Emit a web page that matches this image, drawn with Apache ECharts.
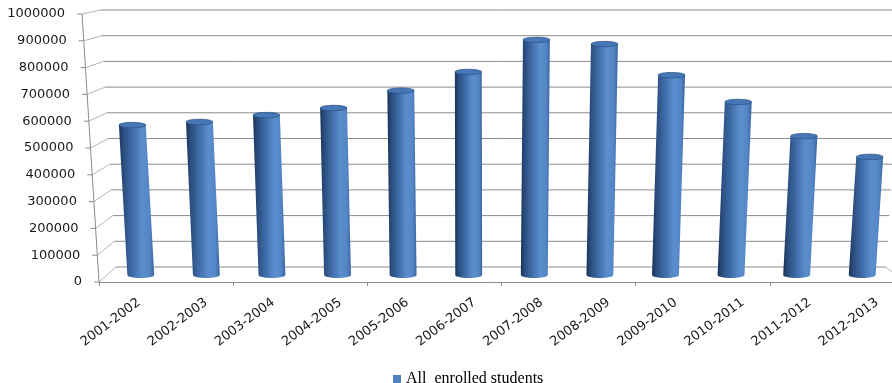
<!DOCTYPE html>
<html>
<head>
<meta charset="utf-8">
<script src="https://cdn.jsdelivr.net/npm/echarts@6/dist/echarts.min.js"></script>
<style>
  html, body { margin: 0; padding: 0; background: #ffffff; }
  #chart { width: 892px; height: 383px; }
</style>
</head>
<body>
<div id="chart"></div>
<script>
// Enrolment per academic year
const categories = ['2001-2002', '2002-2003', '2003-2004', '2004-2005', '2005-2006', '2006-2007',
                    '2007-2008', '2008-2009', '2009-2010', '2010-2011', '2011-2012', '2012-2013'];
const enrolled = [570000, 582000, 608000, 635000, 701000, 772000,
                  894000, 878000, 760000, 658000, 528000, 449000];
const seriesName = 'All  enrolled students';
const valueMax = 1000000;
const valueStep = 100000;

// Vertical edges lean away from a centre line the higher they go (3-point perspective look).
const LEAN = 1.66e-4;
const LEAN_CX = 480;
function lean(x, y, yFloor) { return LEAN_CX + (x - LEAN_CX) * (1 + LEAN * (yFloor - y)); }

// Planes of the box: front face (axes), middle (cylinders), back wall; plus a label strip.
const FRONT  = { left: 99,    right: -12,   top: 14, bottom: 101 };
const MIDDLE = { left: 108,   right: -3,    top: 12, bottom: 108 };
const BACK   = { left: 116,   right: 6,     top: 10, bottom: 116 };
const LABELS = { left: 105.5, right: -18.5, top: 14, bottom: 101 };

const CHART_H = 383;
const AXIS_GREY = '#8c8c8c';
const SIDE_GREY = '#b4b4b4';
const TEXT_FONT = 'DejaVu Sans';

// Value labels follow the leaning front axis: extra right padding per tick.
const frontFloor = CHART_H - FRONT.bottom;
const frontHeight = frontFloor - FRONT.top;
const labelRich = {};
for (let i = 0; i * valueStep <= valueMax; i++) {
  const y = frontFloor - (i * valueStep) / valueMax * frontHeight;
  const pad = FRONT.left - lean(FRONT.left, y, frontFloor);
  labelRich['t' + i] = { padding: [0, pad, 0, 0], fontFamily: TEXT_FONT, fontSize: 13, color: '#1a1a1a' };
}

function gridOf(box) {
  return Object.assign({ containLabel: false, outerBoundsMode: 'none' }, box);
}

function ellipsePoints(cx, cy, rx, ry, from, to, steps) {
  const pts = [];
  for (let s = 0; s <= steps; s++) {
    const a = from + (to - from) * s / steps;
    pts.push([cx + rx * Math.cos(a), cy + ry * Math.sin(a)]);
  }
  return pts;
}

const bodyFill = new echarts.graphic.LinearGradient(0, 0, 1, 0, [
  { offset: 0.00, color: '#1a3356' },
  { offset: 0.12, color: '#294b7c' },
  { offset: 0.38, color: '#3f6ca8' },
  { offset: 0.66, color: '#5b8ecf' },
  { offset: 0.86, color: '#5587c7' },
  { offset: 1.00, color: '#3b66a1' }
]);

// Cylinder: body with rounded base, plus an elliptical top cap.
function renderCylinder(params, api) {
  const i = api.value(0);
  const v = api.value(1);
  const base = api.coord([i, 0]);
  const top = api.coord([i, v]);
  const band = api.size([1, 0])[0];
  const hw = band * 0.205;
  const ry = 3;
  const yFloor = base[1];
  const bx = base[0];
  const ty = top[1];
  const tx = lean(bx, ty, yFloor);

  const body = [[tx - hw, ty], [tx + hw, ty]]
    .concat(ellipsePoints(bx, yFloor, hw, ry, 0, Math.PI, 16));
  const cap = ellipsePoints(tx, ty, hw, ry * 0.9, 0, Math.PI * 2, 32);

  return {
    type: 'group',
    children: [
      { type: 'polygon', shape: { points: body }, style: { fill: bodyFill } },
      { type: 'polygon', shape: { points: cap }, style: { fill: '#4677b6', stroke: '#2f5789', lineWidth: 0.8 } }
    ]
  };
}

const chart = echarts.init(document.getElementById('chart'), null, { renderer: 'canvas' });

const option = {
  backgroundColor: '#ffffff',
  animation: false,
  grid: [gridOf(FRONT), gridOf(MIDDLE), gridOf(BACK), gridOf(LABELS)],
  xAxis: [
    { // front floor edge with category ticks
      gridIndex: 0, type: 'category', data: categories, boundaryGap: true,
      axisLine: { show: true, lineStyle: { color: AXIS_GREY, width: 1 } },
      axisTick: { show: true, alignWithLabel: false, length: 4, lineStyle: { color: AXIS_GREY } },
      axisLabel: { show: false }, splitLine: { show: false }
    },
    { gridIndex: 1, type: 'category', data: categories, show: false },
    { gridIndex: 2, type: 'category', data: categories, show: false },
    { // category labels
      gridIndex: 3, type: 'category', data: categories,
      axisLine: { show: false }, axisTick: { show: false }, splitLine: { show: false },
      axisLabel: { show: true, interval: 0, rotate: 37, margin: 19,
                   fontFamily: TEXT_FONT, fontSize: 13, color: '#1a1a1a' }
    }
  ],
  yAxis: [
    {
      gridIndex: 0, type: 'value', min: 0, max: valueMax, interval: valueStep,
      axisLine: { show: false }, axisTick: { show: false }, splitLine: { show: false },
      axisLabel: {
        show: true, margin: 17,
        formatter: (value) => '{t' + Math.round(value / valueStep) + '|' + value + '}',
        rich: labelRich
      }
    },
    { gridIndex: 1, type: 'value', min: 0, max: valueMax, interval: valueStep, show: false },
    { gridIndex: 2, type: 'value', min: 0, max: valueMax, interval: valueStep, show: false },
    { gridIndex: 3, type: 'value', min: 0, max: valueMax, interval: valueStep, show: false }
  ],
  legend: {
    data: [seriesName],
    left: 388, top: 366,
    icon: 'rect', itemWidth: 8, itemHeight: 8, itemGap: 10,
    textStyle: { fontFamily: 'Liberation Serif', fontSize: 16, color: '#000000' }
  },
  series: [
    {
      type: 'custom',
      name: seriesName,
      xAxisIndex: 1, yAxisIndex: 1,
      data: enrolled.map((v, i) => [i, v]),
      encode: { x: 0, y: 1 },
      itemStyle: { color: '#4f81bd' },
      renderItem: renderCylinder,
      clip: false,
      z: 3
    }
  ]
};

chart.setOption(option);

// Box frame: back-wall gridlines, side-wall diagonals, leaning value axis.
const yPx = (axis, v) => chart.convertToPixel({ yAxisIndex: axis }, v);
const xPx = (axis, idx) => chart.convertToPixel({ xAxisIndex: axis }, categories[idx]);
function bandEdges(axis) {
  const a = xPx(axis, 0);
  const band = xPx(axis, 1) - a;
  return [a - band / 2, a + band * (categories.length - 0.5)];
}
function seg(x1, y1, x2, y2, color) {
  return { type: 'line', z: 0, silent: true,
           shape: { x1: x1, y1: y1, x2: x2, y2: y2 },
           style: { stroke: color, lineWidth: 1 } };
}

const [fL, fR] = bandEdges(0);
const [bL, bR] = bandEdges(2);
const fFloor = yPx(0, 0);
const bFloor = yPx(2, 0);
const frame = [];
for (let v = 0; v <= valueMax; v += valueStep) {
  const yf = yPx(0, v);
  const yb = yPx(2, v);
  const xf = lean(fL, yf, fFloor);
  const xbL = lean(bL, yb, bFloor);
  const xbR = lean(bR, yb, bFloor);
  frame.push(seg(xbL, yb, xbR, yb, AXIS_GREY));
  frame.push(seg(xf, yf, xbL, yb, SIDE_GREY));
  frame.push(seg(xf - 5, yf, xf, yf, AXIS_GREY));
}
const yTop = yPx(0, valueMax);
frame.push(seg(lean(fL, yTop, fFloor), yTop, fL, fFloor, AXIS_GREY));
frame.push(seg(bR, bFloor, fR, fFloor, SIDE_GREY));

chart.setOption({ graphic: { elements: frame } });
</script>
</body>
</html>
